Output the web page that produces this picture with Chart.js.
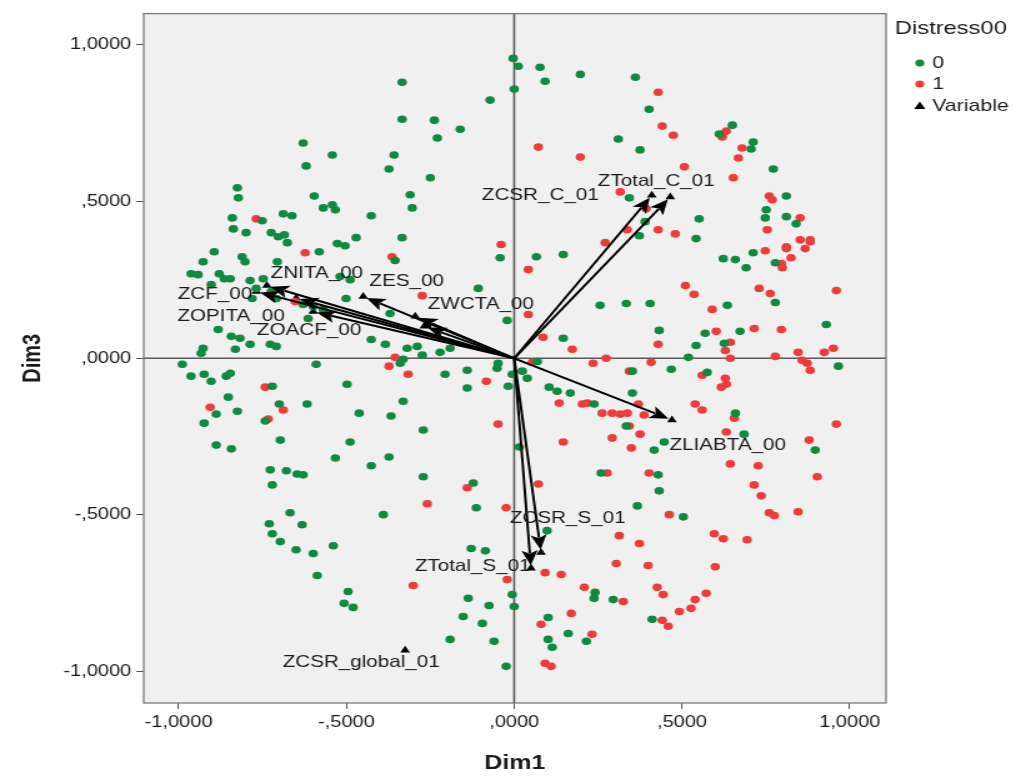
<!DOCTYPE html>
<html>
<head>
<meta charset="utf-8">
<title>Dim1 x Dim3</title>
<script src="https://cdn.jsdelivr.net/npm/chart.js@4.4.0/dist/chart.umd.min.js"></script>
<style>
  html, body { margin: 0; padding: 0; background: #fff; }
</style>
</head>
<body>
<!-- o canvas é desenhado mais estreito e esticado na horizontal -->
<canvas id="graficoBiplot" width="821" height="780" style="display:block;width:1026px;height:780px"></canvas>
<script>
// Casos com Distress00 = 0
const grupo0X = [
  -0.003, 0.012, 0.077, 0.092, 0.197, 0.361, 0.000, -0.072, -0.334, -0.334,
  -0.238, -0.229, -0.161, -0.358, -0.373, -0.250, -0.310, -0.304, -0.334, 0.310,
  0.375, 0.343, 0.373, -0.629, -0.542, -0.620, -0.825, -0.822, -0.596, -0.569,
  -0.542, -0.533, -0.426, -0.688, -0.662, -0.840, -0.751, -0.837, -0.799, -0.724,
  -0.703, -0.685, -0.676, -0.471, -0.527, -0.504, -0.894, -0.581, -0.927, -0.811,
  -0.802, -0.706, -0.963, -0.942, -0.879, -0.903, -0.864, -0.846, -0.787, -0.748,
  -0.769, -0.724, -0.781, -0.709, -0.629, -0.599, -0.569, -0.501, -0.519, -0.489,
  -0.370, -0.614, -0.882, -0.843, -0.817, -0.787, -0.727, -0.709, -0.927, -0.933,
  -0.831, -0.426, -0.384, -0.989, -0.590, -0.963, -0.924, -0.903, -0.858, -0.846,
  -0.498, -0.721, -0.852, -0.700, -0.617, -0.888, -0.825, -0.742, -0.924, -0.462,
  -0.367, -0.697, -0.489, -0.888, -0.843, -0.533, -0.426, -0.373, -0.727, -0.679,
  -0.647, -0.629, -0.721, -0.668, -0.730, -0.632, -0.721, -0.697, -0.650, -0.599,
  -0.539, -0.587, -0.390, -0.495, -0.507, -0.480, -0.271, -0.122, -0.113, -0.128,
  -0.086, -0.006, -0.137, -0.075, 0.000, -0.152, -0.095, -0.191, -0.060, -0.024,
  0.259, 0.367, 0.098, 0.241, 0.238, 0.295, 0.101, 0.161, 0.101, 0.113,
  0.215, 0.429, 0.432, 0.504, 0.411, 0.623, 0.659, 0.691, 0.712, 0.778,
  0.778, 0.405, 0.635, 0.432, 0.569, 0.673, 0.930, 0.542, 0.626, 0.519,
  0.468, 0.966, 0.575, 0.659, 0.685, 0.447, 0.417, 0.897, 0.402, 0.650,
  0.611, 0.712, 0.706, 0.772, 0.811, 0.751, 0.748, 0.811, 0.840, 0.551,
  0.542, 0.390, -0.355, -0.042, 0.066, 0.146, -0.107, 0.256, 0.334, -0.021,
  0.146, -0.319, -0.289, -0.274, -0.221, -0.191, -0.331, -0.340, -0.206, -0.140,
  -0.140, -0.048, -0.051, -0.006, 0.024, 0.039, -0.018, 0.069, 0.104, 0.128,
  0.167, 0.238, 0.352, 0.352, -0.331, -0.271, 0.334, 0.015
];
const grupo0Y = [
  0.957, 0.932, 0.929, 0.884, 0.906, 0.897, 0.859, 0.824, 0.881, 0.763,
  0.760, 0.703, 0.731, 0.649, 0.604, 0.576, 0.522, 0.480, 0.385, 0.700,
  0.665, 0.512, 0.391, 0.687, 0.649, 0.614, 0.544, 0.512, 0.518, 0.480,
  0.490, 0.474, 0.455, 0.461, 0.455, 0.448, 0.439, 0.413, 0.401, 0.401,
  0.388, 0.394, 0.369, 0.385, 0.366, 0.359, 0.340, 0.340, 0.308, 0.324,
  0.308, 0.308, 0.270, 0.267, 0.270, 0.235, 0.254, 0.254, 0.248, 0.254,
  0.223, 0.213, 0.191, 0.191, 0.172, 0.165, 0.156, 0.191, 0.261, 0.251,
  0.143, 0.127, 0.092, 0.070, 0.064, 0.045, 0.045, 0.038, 0.032, 0.016,
  0.029, 0.060, 0.045, -0.019, -0.019, -0.057, -0.051, -0.073, -0.057, -0.048,
  -0.083, -0.089, -0.124, -0.146, -0.146, -0.178, -0.169, -0.200, -0.207, -0.175,
  -0.184, -0.261, -0.267, -0.277, -0.289, -0.318, -0.343, -0.315, -0.356, -0.359,
  -0.369, -0.372, -0.404, -0.493, -0.528, -0.531, -0.560, -0.585, -0.611, -0.623,
  -0.598, -0.693, -0.499, -0.744, -0.782, -0.795, -0.378, -0.398, -0.477, -0.607,
  -0.614, -0.754, -0.766, -0.789, -0.792, -0.824, -0.846, -0.897, -0.903, -0.983,
  -0.366, -0.471, -0.550, -0.747, -0.766, -0.770, -0.827, -0.878, -0.897, -0.922,
  -0.903, -0.372, -0.423, -0.506, -0.833, 0.318, 0.315, 0.289, 0.337, 0.305,
  0.178, 0.175, 0.169, 0.089, 0.080, 0.086, 0.108, 0.041, 0.048, 0.003,
  -0.035, -0.025, -0.045, -0.175, -0.242, -0.267, -0.293, -0.293, 0.795, 0.744,
  0.716, 0.690, 0.668, 0.604, 0.518, 0.474, 0.448, 0.452, 0.429, 0.445,
  0.382, 0.436, 0.312, 0.321, 0.324, 0.331, 0.223, 0.169, 0.175, 0.121,
  0.064, 0.032, 0.038, 0.010, 0.019, 0.032, -0.003, -0.016, -0.051, -0.038,
  -0.095, -0.016, -0.032, -0.051, -0.041, -0.064, -0.089, -0.010, -0.092, -0.105,
  -0.111, -0.146, -0.041, -0.111, -0.137, -0.229, -0.216, -0.283
];

// Casos com Distress00 = 1
const grupo1X = [
  0.072, 0.197, 0.316, 0.337, 0.271, -0.039, -0.769, -0.623, -0.364, -0.653,
  -0.373, -0.742, -0.906, -0.688, -0.733, -0.140, -0.259, -0.024, -0.301, -0.021,
  0.072, 0.277, 0.313, 0.373, 0.304, 0.092, 0.140, 0.209, 0.325, 0.170,
  0.080, 0.232, 0.092, 0.110, 0.402, 0.462, 0.399, 0.596, 0.623, 0.694,
  0.599, 0.715, 0.736, 0.760, 0.775, 0.846, 0.903, 0.426, 0.444, 0.572,
  0.539, 0.527, 0.492, 0.441, 0.459, 0.748, 0.811, 0.825, 0.867, 0.882,
  0.796, 0.799, 0.510, 0.536, 0.730, 0.763, 0.960, 0.590, 0.602, 0.715,
  0.796, 0.429, 0.644, 0.629, 0.644, 0.778, 0.846, 0.924, 0.951, 0.408,
  0.858, 0.873, 0.882, 0.560, 0.629, 0.632, 0.617, 0.370, 0.387, 0.539,
  0.560, 0.656, 0.960, 0.632, 0.375, 0.879, 0.644, 0.727, 0.429, 0.441,
  0.474, 0.507, 0.632, 0.620, 0.679, 0.668, 0.653, 0.760, 0.769, 0.852,
  0.754, 0.852, 0.882, 0.811, 0.429, 0.480, 0.393, 0.042, -0.274, 0.042,
  0.086, 0.173, 0.274, 0.235, -0.355, -0.316, -0.083, 0.054, 0.134, 0.203,
  0.218, 0.262, 0.292, 0.316, 0.337, 0.343, -0.048, 0.146, 0.292, 0.343, 0.349
];
const grupo1Y = [
  0.674, 0.642, 0.531, 0.410, 0.369, 0.363, 0.445, 0.337, 0.324, 0.181,
  -0.025, -0.092, -0.156, -0.165, -0.194, -0.413, -0.464, -0.477, -0.725, -0.706,
  -0.401, -0.366, -0.566, -0.591, -0.655, -0.684, -0.690, -0.731, -0.776, -0.814,
  -0.849, -0.881, -0.973, -0.983, -0.366, -0.499, -0.661, -0.560, -0.576, -0.579,
  -0.665, -0.404, -0.439, -0.493, -0.502, -0.490, -0.378, -0.731, -0.754, -0.750,
  -0.770, -0.798, -0.808, -0.836, -0.855, 0.343, 0.350, 0.321, 0.350, 0.372,
  0.302, 0.289, 0.232, 0.204, 0.223, 0.207, 0.216, 0.156, 0.086, 0.095,
  0.092, 0.045, 0.051, 0.025, 0.000, 0.006, 0.019, 0.019, 0.032, -0.013,
  -0.006, -0.016, -0.038, -0.054, -0.064, -0.083, -0.092, -0.146, -0.181, -0.146,
  -0.165, -0.191, -0.210, -0.235, -0.242, -0.261, -0.337, -0.343, 0.849, 0.741,
  0.712, 0.611, 0.725, 0.706, 0.671, 0.639, 0.576, 0.518, 0.506, 0.448,
  0.410, 0.378, 0.378, 0.356, 0.410, 0.397, 0.477, 0.283, 0.200, 0.140,
  0.067, 0.029, 0.000, -0.016, 0.003, -0.051, -0.073, -0.013, -0.143, -0.146,
  -0.143, -0.175, -0.175, -0.178, -0.175, -0.041, -0.210, -0.267, -0.254, -0.216, -0.286
];

// Variáveis (triângulos) e as setas que saem da origem
const variaveis = ['ZNITA_00', 'ZCF_00', 'ZOPITA_00', 'ZOACF_00', 'ZES_00', 'ZWCTA_00', '',
  'ZCSR_C_01', 'ZTotal_C_01', 'ZLIABTA_00', 'ZCSR_S_01', 'ZTotal_S_01', 'ZCSR_global_01'];
const variavelX = [-0.737, -0.768, -0.650, -0.599, -0.450, -0.295, -0.268,
  0.410, 0.465, 0.470, 0.080, 0.050, -0.325];
const variavelY = [0.232, 0.213, 0.192, 0.149, 0.197, 0.134, 0.102,
  0.520, 0.515, -0.197, -0.620, -0.670, -0.932];
const comSeta = [true, true, true, true, true, true, true, true, true, true, true, true, false];

// Marcas dos eixos
const tickValores = [-1, -0.5, 0, 0.5, 1];
const tickTextos = ['-1,0000', '-,5000', ',0000', ',5000', '1,0000'];

const fonte = '"Liberation Sans", Arial, sans-serif';

// deslocamento (px do canvas) do texto de cada variável em relação ao triângulo
const posRotulos = {
  'ZNITA_00': [3, -12], 'ZCF_00': [-63, 3], 'ZOPITA_00': [-95, 18], 'ZOACF_00': [-45, 19],
  'ZES_00': [5, -15], 'ZWCTA_00': [10, -12], 'ZCSR_C_01': [-136, 0], 'ZTotal_C_01': [-58, -15],
  'ZLIABTA_00': [-2, 25], 'ZCSR_S_01': [-25, -34], 'ZTotal_S_01': [-93, -2], 'ZCSR_global_01': [-98, 12]
};

const pontos = (xs, ys) => xs.map((x, i) => ({ x: x, y: ys[i] }));

const desenhoExtra = {
  id: 'desenhoExtra',
  beforeDatasetsDraw(chart) {
    const { ctx, chartArea: a, scales } = chart;
    ctx.save();
    ctx.fillStyle = '#f0f0f0';
    ctx.fillRect(a.left, a.top, a.width, a.height);
    const x0 = scales.x.getPixelForValue(0);
    const y0 = scales.y.getPixelForValue(0);
    ctx.strokeStyle = '#5a5a5a';
    ctx.lineWidth = 1.6;
    ctx.beginPath();
    ctx.moveTo(x0, a.top); ctx.lineTo(x0, a.bottom);
    ctx.moveTo(a.left, y0); ctx.lineTo(a.right, y0);
    ctx.stroke();
    ctx.restore();
  },
  afterDatasetsDraw(chart) {
    const { ctx, chartArea: a, scales } = chart;
    const x0 = scales.x.getPixelForValue(0);
    const y0 = scales.y.getPixelForValue(0);
    ctx.save();
    // setas
    ctx.strokeStyle = '#000';
    ctx.fillStyle = '#000';
    ctx.lineWidth = 2;
    variaveis.forEach((nome, i) => {
      if (!comSeta[i]) return;
      const px = scales.x.getPixelForValue(variavelX[i]);
      const py = scales.y.getPixelForValue(variavelY[i]);
      const dx = px - x0, dy = py - y0;
      const len = Math.hypot(dx, dy);
      const ux = dx / len, uy = dy / len;
      const tx = px - ux * 3, ty = py - uy * 3;
      const bx = tx - ux * 15, by = ty - uy * 15;
      ctx.beginPath();
      ctx.moveTo(x0, y0);
      ctx.lineTo(bx + ux * 3, by + uy * 3);
      ctx.stroke();
      ctx.beginPath();
      ctx.moveTo(tx, ty);
      ctx.lineTo(bx - uy * 6.5, by + ux * 6.5);
      ctx.lineTo(bx + ux * 3.5, by + uy * 3.5);
      ctx.lineTo(bx + uy * 6.5, by - ux * 6.5);
      ctx.closePath();
      ctx.fill();
    });
    // rótulos das variáveis
    ctx.fillStyle = '#1a1a1a';
    ctx.font = '16.5px ' + fonte;
    ctx.textBaseline = 'middle';
    ctx.textAlign = 'left';
    variaveis.forEach((nome, i) => {
      if (!nome) return;
      const off = posRotulos[nome];
      const px = scales.x.getPixelForValue(variavelX[i]);
      const py = scales.y.getPixelForValue(variavelY[i]);
      ctx.fillText(nome, px + off[0], py + off[1]);
    });
    // moldura da área do gráfico
    ctx.strokeStyle = '#7a7a7a';
    ctx.lineWidth = 1.3;
    ctx.strokeRect(a.left, a.top, a.width, a.height);
    ctx.restore();
  },
  afterDraw(chart) {
    // legenda à direita
    const { ctx } = chart;
    const ds = chart.data.datasets;
    ctx.save();
    ctx.fillStyle = '#1a1a1a';
    ctx.textBaseline = 'middle';
    ctx.font = '19px ' + fonte;
    ctx.fillText('Distress00', 716, 29);
    ctx.font = '17px ' + fonte;
    const linhas = [63, 84, 106];
    ds.forEach((d, i) => {
      const y = linhas[i];
      ctx.fillStyle = d.backgroundColor;
      ctx.beginPath();
      if (d.pointStyle === 'triangle') {
        ctx.moveTo(736, y - 4.5);
        ctx.lineTo(740.5, y + 3);
        ctx.lineTo(731.5, y + 3);
        ctx.closePath();
      } else {
        ctx.arc(736, y, 3.6, 0, Math.PI * 2);
      }
      ctx.fill();
      ctx.fillStyle = '#1a1a1a';
      ctx.fillText(d.label, 746, y);
    });
    ctx.restore();
  }
};

const ctx = document.getElementById('graficoBiplot');

if (ctx) {
  new Chart(ctx, {
    type: 'scatter',
    data: {
      datasets: [
        {
          label: '0',
          data: pontos(grupo0X, grupo0Y),
          backgroundColor: '#0e8a41',
          borderWidth: 0,
          pointRadius: 3.8
        },
        {
          label: '1',
          data: pontos(grupo1X, grupo1Y),
          backgroundColor: '#ef3b3b',
          borderWidth: 0,
          pointRadius: 3.8
        },
        {
          label: 'Variable',
          data: pontos(variavelX, variavelY),
          backgroundColor: '#000',
          borderWidth: 0,
          pointStyle: 'triangle',
          pointRadius: 4.5
        }
      ]
    },
    options: {
      responsive: false,
      animation: false,
      devicePixelRatio: 1,
      layout: { padding: { top: 11, right: 112, bottom: 0, left: 0 } },
      plugins: {
        legend: { display: false },
        tooltip: { enabled: false }
      },
      scales: {
        x: {
          type: 'linear',
          min: -1.104,
          max: 1.108,
          afterBuildTicks: (s) => { s.ticks = tickValores.map(v => ({ value: v })); },
          afterFit: (s) => { s.height = 77; },
          ticks: {
            callback: (v, i) => tickTextos[i],
            color: '#1a1a1a',
            font: { family: fonte, size: 16 },
            padding: 4,
            maxRotation: 0,
            autoSkip: false
          },
          grid: { drawOnChartArea: false, drawTicks: true, tickLength: 6, color: '#555' },
          border: { display: false },
          title: {
            display: true,
            text: 'Dim1',
            color: '#1a1a1a',
            font: { family: fonte, size: 20, weight: 'bold' },
            padding: { top: 0, bottom: 5 }
          }
        },
        y: {
          type: 'linear',
          min: -1.1,
          max: 1.1,
          afterBuildTicks: (s) => { s.ticks = tickValores.map(v => ({ value: v })); },
          afterFit: (s) => { s.width = 115; },
          ticks: {
            callback: (v, i) => tickTextos[i],
            color: '#1a1a1a',
            font: { family: fonte, size: 16 },
            padding: 4,
            autoSkip: false
          },
          grid: { drawOnChartArea: false, drawTicks: true, tickLength: 6, color: '#555' },
          border: { display: false },
          title: {
            display: true,
            text: 'Dim3',
            color: '#1a1a1a',
            font: { family: fonte, size: 20, weight: 'bold' },
            padding: { top: 14, bottom: 0 }
          }
        }
      }
    },
    plugins: [desenhoExtra]
  });
} else {
  console.error("Canvas 'graficoBiplot' não encontrado!");
}
</script>
</body>
</html>
